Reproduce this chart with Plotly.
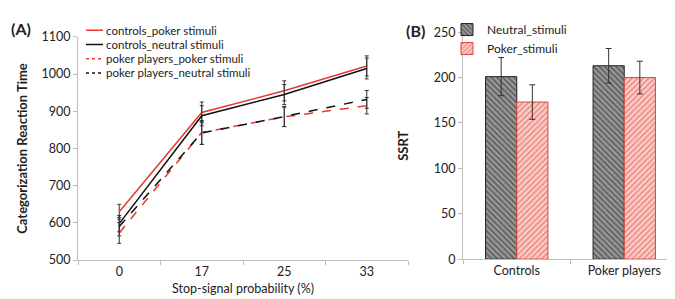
import plotly.graph_objects as go

# ---- Data panel A ----
prob_labels = ["0", "17", "25", "33"]
controls_poker = [630, 897, 955, 1022]
controls_poker_err = [20, 28, 27, 27]
controls_neutral = [598, 888, 945, 1015]
controls_neutral_err = [22, 27, 27, 28]
pp_poker = [573, 843, 885, 915]
pp_poker_err = [28, 32, 26, 22]
pp_neutral = [590, 842, 886, 932]
pp_neutral_err = [25, 31, 27, 24]

series_names = ["controls_poker stimuli", "controls_neutral stimuli",
                "poker players_poker stimuli", "poker players_neutral stimuli"]

# ---- Data panel B ----
groups = ["Controls", "Poker players"]
ssrt_neutral = [201, 213]
ssrt_neutral_err = [21, 19]
ssrt_poker = [173, 200]
ssrt_poker_err = [19, 18]

FONT = "Lato, 'Open Sans', sans-serif"
RED = "#e8392f"
BLACK = "#111111"
ERR = "#333333"

fig = go.Figure()

styles = [(RED, "solid"), (BLACK, "solid"), (RED, "dash"), (BLACK, "dash")]
values = [controls_poker, controls_neutral, pp_poker, pp_neutral]
errors = [controls_poker_err, controls_neutral_err, pp_poker_err, pp_neutral_err]

for name, y, err, (color, dash) in zip(series_names, values, errors, styles):
    fig.add_trace(go.Scatter(
        x=prob_labels, y=y, name=name, mode="lines", showlegend=False,
        line=dict(color=color, width=1.5, dash=dash),
        error_y=dict(type="data", array=err, color=ERR, thickness=1, width=2),
        xaxis="x", yaxis="y"))

fig.add_trace(go.Bar(
    x=groups, y=ssrt_neutral, name="Neutral_stimuli",
    marker=dict(color="#8c8c8c", line=dict(color="#222", width=1),
                pattern=dict(shape="\\", fgcolor="#222", bgcolor="#9a9a9a", size=4, solidity=0.45)),
    error_y=dict(type="data", array=ssrt_neutral_err, color=ERR, thickness=1, width=3),
    xaxis="x2", yaxis="y2", legend="legend2"))
fig.add_trace(go.Bar(
    x=groups, y=ssrt_poker, name="Poker_stimuli",
    marker=dict(color="#f3a79f", line=dict(color="#d9453a", width=1),
                pattern=dict(shape="/", fgcolor="#e0493e", bgcolor="#fbd0cb", size=4, solidity=0.45)),
    error_y=dict(type="data", array=ssrt_poker_err, color=ERR, thickness=1, width=3),
    xaxis="x2", yaxis="y2", legend="legend2"))

axis_common = dict(showgrid=False, zeroline=False, showline=True, linecolor="#bdbdbd",
                   linewidth=1, ticks="outside", tickcolor="#bdbdbd", ticklen=4,
                   tickfont=dict(family=FONT, size=12.5, color="#222"))

# manual legend for panel A (compact spacing like the original)
shapes = []
annotations = []
for i, (name, (color, dash)) in enumerate(zip(series_names, styles)):
    yy = 1 - (15 + 15 * i) / 299
    shapes.append(dict(type="line", xref="paper", yref="paper",
                       x0=78/675, x1=95/675, y0=yy, y1=yy,
                       line=dict(color=color, width=1.5, dash=dash if dash != "dash" else "3px,3px")))
    annotations.append(dict(text=name, x=96/675, y=yy, xref="paper", yref="paper",
                            xanchor="left", yanchor="middle", showarrow=False,
                            font=dict(size=11.5, family=FONT, color="#222")))

annotations += [
    dict(text="<b>(A)</b>", x=1/675, y=1 - 1/299, xref="paper", yref="paper",
         xanchor="left", yanchor="top", showarrow=False, font=dict(size=16)),
    dict(text="<b>(B)</b>", x=396/675, y=1 - 3/299, xref="paper", yref="paper",
         xanchor="left", yanchor="top", showarrow=False, font=dict(size=16)),
]

fig.update_layout(
    width=675, height=299,
    margin=dict(l=0, r=0, t=0, b=0),
    paper_bgcolor="white", plot_bgcolor="white",
    font=dict(family=FONT, size=12, color="#222"),
    bargap=0.42, bargroupgap=0,
    xaxis=dict(domain=[70/675, 400/675], anchor="y", type="category",
               range=[-0.5, 3.5], tickson="boundaries",
               title=dict(text="Stop-signal probability (%)", font=dict(size=12.5), standoff=6),
               **axis_common),
    yaxis=dict(domain=[42/299, 277/299], anchor="x", range=[500, 1100], dtick=100,
               title=dict(text="<b>Categorization Reaction Time</b>", font=dict(size=13), standoff=10),
               **axis_common),
    xaxis2=dict(domain=[455/675, 670/675], anchor="y2", type="category",
                tickson="boundaries", **axis_common),
    yaxis2=dict(domain=[43/299, 282/299], anchor="x2", range=[0, 250], dtick=50,
                title=dict(text="<b>SSRT</b>", font=dict(size=13), standoff=22),
                **axis_common),
    legend2=dict(x=439/675, y=1 + 1/299, xanchor="left", yanchor="top",
                 bgcolor="rgba(0,0,0,0)", font=dict(size=12, family=FONT),
                 itemwidth=30, traceorder="normal"),
    shapes=shapes,
    annotations=annotations,
)

fig.write_html("out.html")
